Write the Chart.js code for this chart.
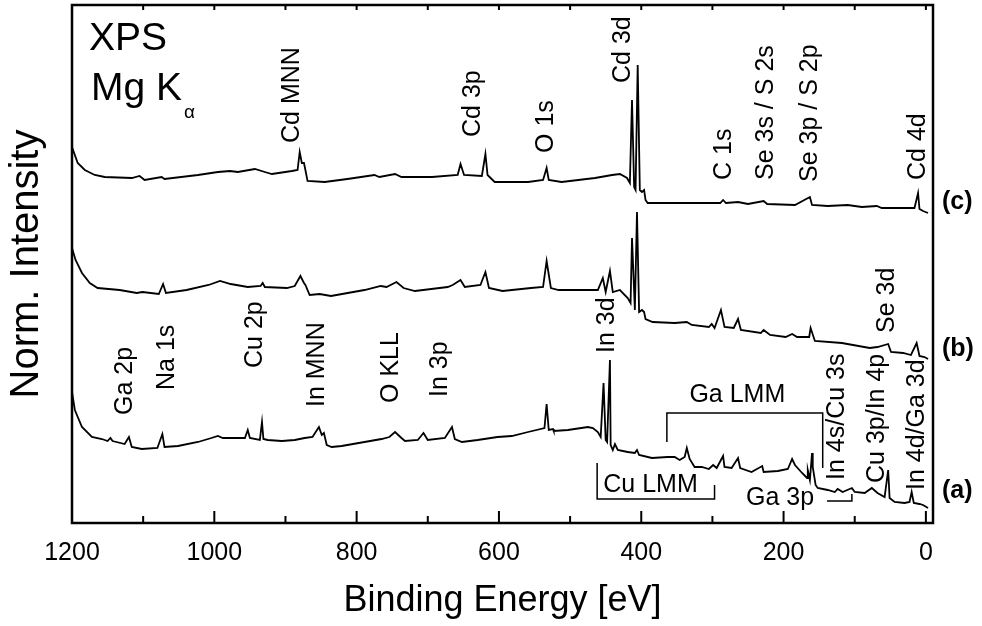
<!DOCTYPE html>
<html>
<head>
<meta charset="utf-8">
<script src="https://cdn.jsdelivr.net/npm/chart.js@4.4.1/dist/chart.umd.min.js"></script>
<style>
  html, body { margin: 0; padding: 0; background: #fff; }
  #wrap { width: 982px; height: 626px; }
</style>
</head>
<body>
<div id="wrap"><canvas id="xps"></canvas></div>
<script>
"use strict";

// spectra: [binding energy eV, intensity a.u.]
const spectrumC = [
  [1200,376],[1192,360],[1182,353],[1168,348],[1154,346],[1116,345],[1105,347],[1098,343],[1074,346],[1070,344],
  [1023,348],[995,351],[978,352],[967,351],[943,354],[929,351],[919,349],[891,352],[883,353],[880,371],[877,360],
  [874,360],[872,353],[869,342],[845,341],[813,344],[775,348],[768,346],[746,349],[737,346],[694,346],[658,348],
  [654,359],[649,348],[624,347],[619,369],[616,348],[606,341],[559,341],[538,343],[533,355],[530,343],[512,341],
  [465,345],[441,348],[430,349],[420,345],[416,340],[413,423],[410,336],[408,333],[405,458],[402,333],[399,331],
  [396,333],[394,323],[391,320],[349,320],[289,320],[285,323],[281,320],[264,321],[250,319],[228,322],[223,319],
  [184,318],[163,326],[160,318],[138,317],[110,318],[90,316],[69,317],[62,315],[16,315],[11,330],[9,314],[4,312],[-3,310]
];
const spectrumB = [
  [1200,275],[1195,263],[1186,250],[1175,240],[1164,235],[1133,233],[1109,230],[1101,231],[1078,229],[1072,239],
  [1068,230],[1039,233],[1008,238],[992,242],[977,239],[953,236],[935,237],[932,240],[929,236],[898,235],[887,237],
  [879,247],[874,240],[872,238],[866,228],[852,229],[836,227],[789,233],[766,237],[758,236],[744,241],[734,235],
  [718,232],[672,236],[665,238],[654,243],[648,236],[626,238],[619,251],[614,235],[595,232],[555,235],[538,236],
  [533,262],[527,235],[516,233],[461,233],[454,245],[450,231],[444,252],[440,231],[430,233],[419,225],[415,220],
  [413,285],[409,213],[406,311],[403,211],[399,213],[396,211],[394,204],[384,201],[353,200],[336,201],[329,198],
  [305,196],[301,199],[297,195],[288,213],[283,196],[270,195],[264,204],[260,193],[232,190],[228,193],[219,188],
  [197,186],[188,189],[181,186],[164,186],[162,195],[156,182],[118,180],[79,175],[68,176],[53,179],[49,171],
  [32,170],[21,168],[13,180],[9,167],[2,166],[-3,164]
];
const spectrumA = [
  [1200,131],[1196,113],[1186,96],[1172,86],[1158,84],[1150,82],[1146,85],[1143,82],[1126,79],[1120,86],[1116,76],
  [1102,74],[1080,75],[1073,89],[1070,76],[1051,77],[1023,81],[1004,85],[995,87],[988,85],[957,85],[953,93],[950,85],
  [936,83],[933,101],[931,84],[925,83],[905,82],[887,83],[873,85],[862,86],[853,96],[849,88],[846,90],[842,78],
  [835,76],[821,77],[789,81],[765,84],[754,86],[746,91],[737,85],[732,82],[714,83],[706,90],[700,83],[676,85],
  [666,96],[662,84],[652,81],[630,83],[602,86],[582,87],[559,91],[536,95],[533,119],[530,93],[524,94],[523,92],
  [503,93],[475,96],[468,95],[461,91],[457,86],[453,140],[450,83],[448,81],[444,163],[443,78],[440,73],[437,79],
  [433,73],[419,71],[409,70],[406,73],[403,68],[385,65],[363,66],[353,66],[346,63],[339,66],[336,75],[332,64],
  [325,56],[315,56],[305,54],[299,58],[294,55],[285,67],[283,56],[273,55],[264,65],[261,55],[245,51],[230,57],
  [228,51],[208,52],[194,54],[188,64],[184,58],[174,50],[167,45],[166,53],[163,43],[160,70],[159,56],[155,38],
  [152,35],[138,33],[128,31],[124,34],[117,31],[104,35],[100,31],[86,30],[76,35],[68,30],[58,26],[53,53],[51,25],
  [44,21],[30,20],[23,21],[20,31],[17,20],[9,19],[4,18],[-3,15]
];

const xTicks = [0, 100, 200, 300, 400, 500, 600, 700, 800, 900, 1000, 1100, 1200];

// peak labels: text, energy, intensity where the rotated text starts
const peakLabels = [
  ["Cd MNN", 890, 380], ["Cd 3p", 637, 386], ["O 1s", 534, 370], ["Cd 3d", 426, 440],
  ["C 1s", 283, 343], ["Se 3s / S 2s", 224, 343], ["Se 3p / S 2p", 163, 341], ["Cd 4d", 11, 343],
  ["Ga 2p", 1126, 108], ["Na 1s", 1067, 133], ["Cu 2p", 943, 155], ["In MNN", 856, 116],
  ["O KLL", 751, 120], ["In 3p", 683, 126], ["In 3d", 448, 170], ["Se 3d", 55, 190],
  ["In 4s/Cu 3s", 125, 43], ["Cu 3p/In 4p", 69, 40], ["In 4d/Ga 3d", 13, 33]
];
// horizontal labels: text, energy, intensity (centre)
const bandLabels = [["Ga LMM", 265, 128], ["Cu LMM", 387, 38], ["Ga 3p", 205, 25]];
// bracket polylines in energy / intensity
const brackets = [
  [[364, 81], [364, 110], [145, 110], [145, 55]],
  [[462, 60], [462, 24], [297, 24], [297, 38]],
  [[139, 22], [104, 22], [104, 29]]
];
const curveTags = [["(a)", 32], ["(b)", 174], ["(c)", 321]];

const FONT = '"Liberation Sans", Arial, Helvetica, sans-serif';
const pts = (s) => s.map((p) => ({ x: p[0], y: p[1] }));

const framePlugin = {
  id: "frame",
  afterDraw(chart) {
    const { ctx, chartArea: a, scales: { x, y } } = chart;
    ctx.save();
    ctx.strokeStyle = "#000";
    ctx.fillStyle = "#000";

    // axis box
    ctx.lineWidth = 2.5;
    ctx.strokeRect(a.left, a.top, a.right - a.left, a.bottom - a.top);

    // inward ticks, bottom and top
    ctx.lineWidth = 2;
    ctx.beginPath();
    xTicks.forEach((v) => {
      const px = x.getPixelForValue(v);
      const len = v % 200 === 0 ? 12 : 7;
      ctx.moveTo(px, a.bottom);
      ctx.lineTo(px, a.bottom - len);
      ctx.moveTo(px, a.top);
      ctx.lineTo(px, a.top + 5);
    });
    ctx.stroke();

    // brackets
    ctx.lineWidth = 1.5;
    brackets.forEach((b) => {
      ctx.beginPath();
      b.forEach((p, i) => {
        const px = x.getPixelForValue(p[0]), py = y.getPixelForValue(p[1]);
        if (i === 0) ctx.moveTo(px, py); else ctx.lineTo(px, py);
      });
      ctx.stroke();
    });

    // rotated peak labels
    ctx.font = "25px " + FONT;
    ctx.textAlign = "left";
    ctx.textBaseline = "middle";
    peakLabels.forEach(([t, e, i]) => {
      ctx.save();
      ctx.translate(x.getPixelForValue(e), y.getPixelForValue(i));
      ctx.rotate(-Math.PI / 2);
      ctx.fillText(t, 0, 0);
      ctx.restore();
    });

    ctx.textAlign = "center";
    bandLabels.forEach(([t, e, i]) => ctx.fillText(t, x.getPixelForValue(e), y.getPixelForValue(i)));

    // curve tags
    ctx.font = "bold 25px " + FONT;
    ctx.textAlign = "left";
    curveTags.forEach(([t, i]) => ctx.fillText(t, a.right + 9, y.getPixelForValue(i)));

    // XPS / Mg K alpha
    ctx.textBaseline = "alphabetic";
    ctx.font = "39px " + FONT;
    ctx.fillText("XPS", a.left + 17, a.top + 45);
    ctx.fillText("Mg K", a.left + 19, a.top + 95);
    ctx.font = "19px " + FONT;
    ctx.fillText("\u03b1", a.left + 112, a.top + 113);
    ctx.restore();
  },
};

const ds = (data) => ({
  data: pts(data),
  showLine: true,
  borderColor: "#000",
  borderWidth: 1.8,
  pointRadius: 0,
  tension: 0,
  fill: false,
});

new Chart(document.getElementById("xps"), {
  type: "scatter",
  data: { datasets: [ds(spectrumA), ds(spectrumB), ds(spectrumC)] },
  options: {
    responsive: true,
    maintainAspectRatio: false,
    animation: false,
    devicePixelRatio: 1,
    layout: { padding: { top: 5, right: 49, left: 0, bottom: 0 } },
    plugins: { legend: { display: false }, tooltip: { enabled: false } },
    scales: {
      x: {
        type: "linear",
        reverse: true,
        min: -10,
        max: 1200,
        afterBuildTicks: (s) => { s.ticks = xTicks.map((v) => ({ value: v })); },
        afterFit: (s) => { s.height = 103; },
        ticks: {
          callback: (v) => (v % 200 === 0 ? String(v) : ""),
          autoSkip: false,
          maxRotation: 0,
          padding: 15,
          color: "#000",
          font: { family: FONT, size: 25 },
        },
        grid: { display: false, drawTicks: false },
        border: { display: false },
        title: {
          display: true,
          text: "Binding Energy [eV]",
          color: "#000",
          font: { family: FONT, size: 36 },
          padding: { top: 0, bottom: 3 },
        },
      },
      y: {
        min: 0,
        max: 518,
        afterFit: (s) => { s.width = 72; },
        ticks: { display: false },
        grid: { display: false, drawTicks: false },
        border: { display: false },
        title: {
          display: true,
          text: "Norm. Intensity",
          color: "#000",
          font: { family: FONT, size: 40 },
          padding: { top: 3, bottom: 0 },
        },
      },
    },
  },
  plugins: [framePlugin],
});
</script>
</body>
</html>
